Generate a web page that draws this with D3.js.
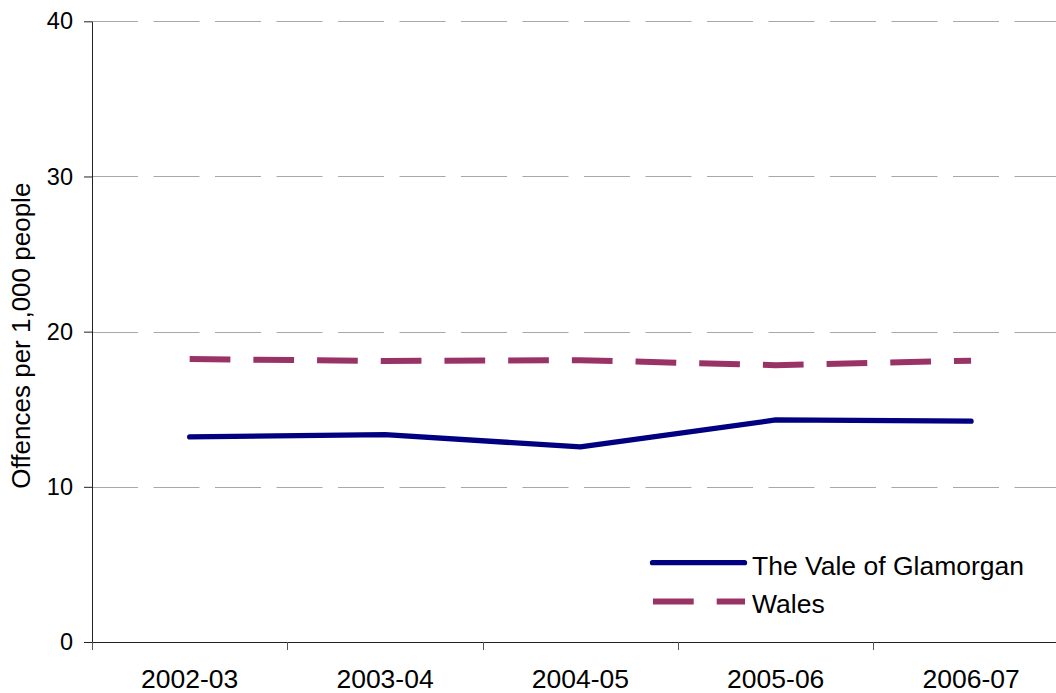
<!DOCTYPE html>
<html>
<head>
<meta charset="utf-8">
<script src="https://cdn.jsdelivr.net/npm/d3@7"></script>
<style>
  body { margin: 0; background: #fff; }
  svg { display: block; font-family: "Liberation Sans", Arial, sans-serif; }
</style>
</head>
<body>
<div id="chart"></div>
<script>
// data
const years = ["2002-03", "2003-04", "2004-05", "2005-06", "2006-07"];
const vale = [13.22, 13.36, 12.57, 14.31, 14.23];
const wales = [18.23, 18.11, 18.16, 17.84, 18.13];
const yTicks = [0, 10, 20, 30, 40];
const seriesNames = ["The Vale of Glamorgan", "Wales"];

const w = 1056;
const h = 693;
const padLeft = 92;
const plotTop = 21.3;
const plotBottom = 642;
const bandW = 195.35;

const svg = d3.select("#chart")
  .append("svg")
  .attr("width", w)
  .attr("height", h);

// scales
const x = d3.scaleBand()
  .domain(years)
  .range([padLeft, padLeft + bandW * years.length])
  .padding(0);

const y = d3.scaleLinear()
  .domain([0, 40])
  .range([plotBottom, plotTop]);

// gridlines
svg.append("g")
  .selectAll("line")
  .data(yTicks.filter(d => d > 0))
  .enter()
  .append("line")
  .attr("x1", padLeft)
  .attr("x2", padLeft + bandW * years.length)
  .attr("y1", d => Math.round(y(d)) + 0.5)
  .attr("y2", d => Math.round(y(d)) + 0.5)
  .attr("stroke", "#a8a8a8")
  .attr("stroke-width", 1)
  .attr("stroke-dasharray", "46,15.5");

// y axis
const yAxis = d3.axisLeft(y)
  .tickValues(yTicks)
  .tickSize(8)
  .tickSizeOuter(0)
  .tickPadding(11);

const gy = svg.append("g")
  .attr("transform", "translate(" + padLeft + ",0)")
  .call(yAxis);
gy.select(".domain").attr("stroke", "#222");
gy.selectAll(".tick line").attr("stroke", "#222");
gy.selectAll(".tick text")
  .attr("fill", "#000")
  .style("font-size", "23.5px")
  .style("font-family", "'Liberation Sans', Arial, sans-serif");

// x axis (labels centred on categories, ticks between them)
const xAxis = d3.axisBottom(x)
  .tickSize(0)
  .tickSizeOuter(0)
  .tickPadding(27);

const gx = svg.append("g")
  .attr("transform", "translate(0," + plotBottom + ")")
  .call(xAxis);
gx.select(".domain").attr("stroke", "#222");
gx.selectAll(".tick text")
  .attr("fill", "#000")
  .style("font-size", "26.5px")
  .style("font-family", "'Liberation Sans', Arial, sans-serif");

gx.selectAll(".catTick")
  .data(years.concat(["end"]))
  .enter()
  .append("line")
  .attr("class", "catTick")
  .attr("x1", (d, i) => Math.round(padLeft + i * bandW) + 0.5)
  .attr("x2", (d, i) => Math.round(padLeft + i * bandW) + 0.5)
  .attr("y1", 0)
  .attr("y2", 8)
  .attr("stroke", "#555");

// y axis title
svg.append("text")
  .attr("transform", "translate(30," + ((plotTop + plotBottom) / 2 + 4) + ") rotate(-90)")
  .attr("text-anchor", "middle")
  .style("font-size", "26px")
  .attr("fill", "#000")
  .text("Offences per 1,000 people");

// lines
const line = d3.line()
  .x((d, i) => x(years[i]) + x.bandwidth() / 2)
  .y(d => y(d));

svg.append("path")
  .datum(wales)
  .attr("fill", "none")
  .attr("stroke", "#993366")
  .attr("stroke-width", 6)
  .attr("stroke-dasharray", "40.7,23")
  .attr("d", line);

svg.append("path")
  .datum(vale)
  .attr("fill", "none")
  .attr("stroke", "#000080")
  .attr("stroke-width", 5.3)
  .attr("stroke-linecap", "round")
  .attr("stroke-linejoin", "round")
  .attr("d", line);

// legend
function legend(yPos, color, dash, width, cap, text) {
  const l = svg.append("line")
    .attr("x1", dash ? 653 : 652.5)
    .attr("x2", dash ? 745 : 744.5)
    .attr("y1", yPos)
    .attr("y2", yPos)
    .attr("stroke", color)
    .attr("stroke-width", width)
    .attr("stroke-linecap", cap);
  if (dash) l.attr("stroke-dasharray", dash);

  svg.append("text")
    .attr("x", 752)
    .attr("y", yPos + 11.8)
    .style("font-size", "26.5px")
    .attr("fill", "#000")
    .text(text);
}

legend(562.7, "#000080", null, 5.3, "round", seriesNames[0]);
legend(601.5, "#993366", "40.7,23", 6, "butt", seriesNames[1]);
</script>
</body>
</html>
